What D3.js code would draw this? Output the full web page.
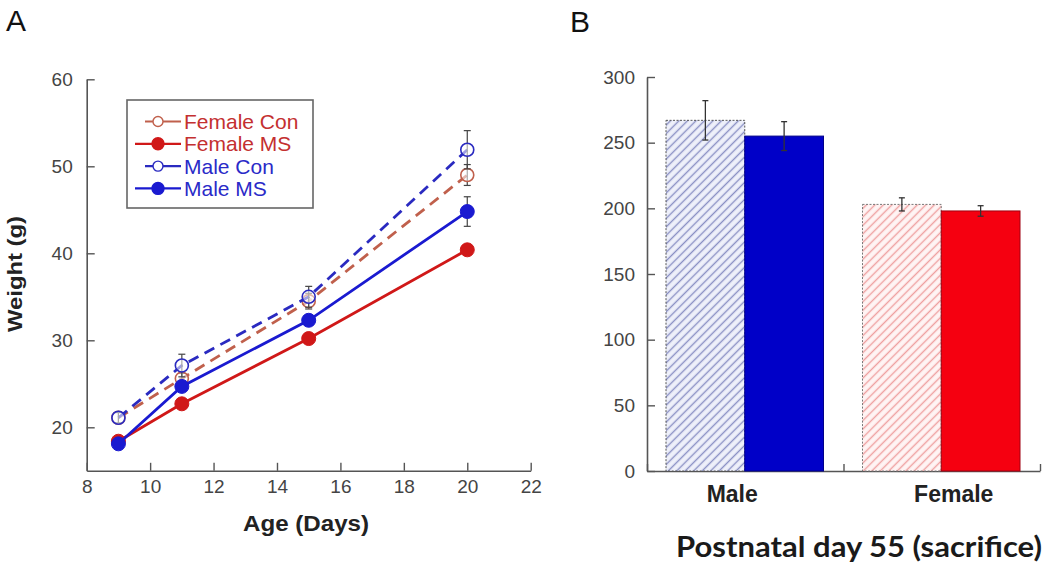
<!DOCTYPE html>
<html><head><meta charset="utf-8">
<script src="https://cdn.jsdelivr.net/npm/d3@7/dist/d3.min.js"></script>
<style>body{margin:0;background:#fff}svg{display:block}</style>
</head><body>
<svg id="chart" width="1050" height="570"></svg>
<script>
// ---------- Panel A data ----------
const days = [9, 11, 15, 20];
const xTicksA = [8, 10, 12, 14, 16, 18, 20, 22];
const yTicksA = [20, 30, 40, 50, 60];
const seriesNames = ["Female Con", "Female MS", "Male Con", "Male MS"];
const femaleCon = [21.1, 25.6, 34.5, 49.0];
const femaleConErr = [0.6, 0.6, 0.9, 1.2];
const femaleMS = [18.4, 22.7, 30.2, 40.4];
const femaleMSErr = [0.4, 0.4, 0.5, 0.6];
const maleCon = [21.1, 27.1, 35.0, 51.9];
const maleConErr = [0.6, 1.3, 1.2, 2.2];
const maleMS = [18.1, 24.7, 32.3, 44.8];
const maleMSErr = [0.5, 0.6, 0.6, 1.7];

// ---------- Panel B data ----------
const groupsB = ["Male", "Female"];
const conditionsB = ["Con", "MS"];
const conValues = [267, 203];
const conErr = [15, 5];
const msValues = [255, 198];
const msErr = [11, 4];
const yTicksB = [0, 50, 100, 150, 200, 250, 300];

const svg = d3.select("#chart");
const FONT = "'Liberation Sans', Arial, sans-serif";
const axisColor = "#555";

// ---------- defs: hatch patterns ----------
const defs = svg.append("defs");
function hatch(id, bg, fg) {
  const p = defs.append("pattern").attr("id", id).attr("patternUnits", "userSpaceOnUse")
    .attr("width", 6).attr("height", 6).attr("patternTransform", "rotate(45)");
  p.append("rect").attr("width", 6).attr("height", 6).attr("fill", bg);
  p.append("line").attr("x1", 1.5).attr("y1", 0).attr("x2", 1.5).attr("y2", 6)
    .attr("stroke", fg).attr("stroke-width", 1.4);
}
hatch("hatchBlue", "#eef0fa", "#8a90c4");
hatch("hatchRed", "#fff4f4", "#efa0a0");

// panel letters
svg.append("text").attr("x", 6).attr("y", 31).attr("font-family", FONT).attr("font-size", 30).attr("fill", "#111").text("A");
svg.append("text").attr("x", 570).attr("y", 32).attr("font-family", FONT).attr("font-size", 30).attr("fill", "#111").text("B");

// ---------- Panel A ----------
const xA = d3.scaleLinear().domain([8, 22]).range([86.7, 530.7]);
const yA = d3.scaleLinear().domain([15, 60]).range([470.8, 79.3]);

function styleAxis(g) {
  g.select(".domain").attr("stroke", axisColor).attr("stroke-width", 1.6);
  g.selectAll(".tick line").attr("stroke", axisColor).attr("stroke-width", 1.4);
  g.selectAll(".tick text").attr("fill", "#444").attr("font-family", FONT).attr("font-size", 19);
}
const gxA = svg.append("g").attr("transform", `translate(0,${yA(15)})`)
  .call(d3.axisBottom(xA).tickValues(xTicksA).tickSizeInner(-8).tickSizeOuter(0).tickPadding(9));
styleAxis(gxA);
const gyA = svg.append("g").attr("transform", `translate(${xA(8)},0)`)
  .call(d3.axisLeft(yA).tickValues(yTicksA).tickSizeInner(-8).tickSizeOuter(0).tickPadding(14));
styleAxis(gyA);

svg.append("text").attr("x", 306).attr("y", 531).attr("text-anchor", "middle")
  .attr("font-family", FONT).attr("font-weight", "bold").attr("font-size", 22).attr("fill", "#222")
  .attr("textLength", 126).attr("lengthAdjust", "spacingAndGlyphs").text("Age (Days)");
svg.append("text").attr("transform", "translate(22,274) rotate(-90)").attr("text-anchor", "middle")
  .attr("font-family", FONT).attr("font-weight", "bold").attr("font-size", 21).attr("fill", "#222")
  .attr("textLength", 116).attr("lengthAdjust", "spacingAndGlyphs").text("Weight (g)");

const seriesA = [
  {name: seriesNames[0], vals: femaleCon, err: femaleConErr, color: "#c0604c", dash: "11,7", open: true, text: "#c43030"},
  {name: seriesNames[1], vals: femaleMS, err: femaleMSErr, color: "#d01818", dash: null, open: false, text: "#c43030"},
  {name: seriesNames[2], vals: maleCon, err: maleConErr, color: "#2a2ac0", dash: "11,7", open: true, text: "#2a2ac8"},
  {name: seriesNames[3], vals: maleMS, err: maleMSErr, color: "#1a1ad0", dash: null, open: false, text: "#2a2ac8"}
];
const line = d3.line().x(d => xA(d.x)).y(d => yA(d.y));
seriesA.forEach(s => {
  const pts = days.map((d, i) => ({x: d, y: s.vals[i], e: s.err[i]}));
  const g = svg.append("g");
  g.append("path").datum(pts).attr("d", line).attr("fill", "none").attr("stroke", s.color)
    .attr("stroke-width", 2.8).attr("stroke-dasharray", s.dash);
  pts.forEach(p => {
    const x = xA(p.x), y1 = yA(p.y + p.e), y2 = yA(p.y - p.e);
    g.append("line").attr("x1", x).attr("x2", x).attr("y1", y1).attr("y2", y2).attr("stroke", "#444").attr("stroke-width", 1.2);
    g.append("line").attr("x1", x - 3.5).attr("x2", x + 3.5).attr("y1", y1).attr("y2", y1).attr("stroke", "#444").attr("stroke-width", 1.2);
    g.append("line").attr("x1", x - 3.5).attr("x2", x + 3.5).attr("y1", y2).attr("y2", y2).attr("stroke", "#444").attr("stroke-width", 1.2);
  });
  g.selectAll("circle").data(pts).join("circle")
    .attr("cx", d => xA(d.x)).attr("cy", d => yA(d.y)).attr("r", s.open ? 6.5 : 7)
    .attr("fill", s.open ? "#fff" : s.color).attr("fill-opacity", s.open ? 0.55 : 1)
    .attr("stroke", s.color).attr("stroke-width", s.open ? 1.6 : 1);
});

// legend
const lg = svg.append("g");
lg.append("rect").attr("x", 127).attr("y", 100).attr("width", 186).attr("height", 108)
  .attr("fill", "#fff").attr("stroke", "#666").attr("stroke-width", 1.6);
seriesA.forEach((s, i) => {
  const y = 121.5 + i * 22.3;
  const x0 = s.open ? 145 : 135;
  lg.append("line").attr("x1", x0).attr("x2", 181).attr("y1", y).attr("y2", y).attr("stroke", s.color).attr("stroke-width", 2.2);
  lg.append("circle").attr("cx", 158).attr("cy", y).attr("r", s.open ? 5 : 6)
    .attr("fill", s.open ? "#fff" : s.color).attr("stroke", s.color).attr("stroke-width", 1.4);
  lg.append("text").attr("x", 184).attr("y", y + 7.5).attr("font-family", FONT).attr("font-size", 21)
    .attr("fill", s.text).text(s.name);
});

// ---------- Panel B ----------
const x0B = d3.scaleBand().domain(groupsB).range([647, 1040]).padding(0);
const x1B = d3.scaleBand().domain(conditionsB).range([19, x0B.bandwidth() - 20]).padding(0);
const yB = d3.scaleLinear().domain([0, 300]).range([471, 77]);
const tickPosB = d3.scaleLinear().domain([0, groupsB.length]).range([647, 1040]);

const gxB = svg.append("g").attr("transform", `translate(0,${yB(0)})`)
  .call(d3.axisBottom(tickPosB).tickValues(d3.range(groupsB.length + 1)).tickFormat("").tickSizeInner(-7).tickSizeOuter(0));
styleAxis(gxB);
const gyB = svg.append("g").attr("transform", `translate(647,0)`)
  .call(d3.axisLeft(yB).tickValues(yTicksB).tickSizeInner(-8).tickSizeOuter(0).tickPadding(12));
styleAxis(gyB);

const barColors = {
  Male: {Con: "url(#hatchBlue)", MS: "#0000c8", stroke: {Con: "#555", MS: "#00008a"}},
  Female: {Con: "url(#hatchRed)", MS: "#f50010", stroke: {Con: "#777", MS: "#a00010"}}
};
const barData = [];
groupsB.forEach((g, i) => {
  barData.push({group: g, cond: "Con", v: conValues[i], e: conErr[i]});
  barData.push({group: g, cond: "MS", v: msValues[i], e: msErr[i]});
});
const bars = svg.append("g");
bars.selectAll("rect").data(barData).join("rect")
  .attr("x", d => x0B(d.group) + x1B(d.cond))
  .attr("y", d => yB(d.v))
  .attr("width", x1B.bandwidth())
  .attr("height", d => yB(0) - yB(d.v))
  .attr("fill", d => barColors[d.group][d.cond])
  .attr("stroke", d => barColors[d.group].stroke[d.cond])
  .attr("stroke-width", 1)
  .attr("stroke-dasharray", d => d.cond === "Con" ? "2,1.5" : null);
barData.forEach(d => {
  const x = x0B(d.group) + x1B(d.cond) + x1B.bandwidth() / 2;
  const y1 = yB(d.v + d.e), y2 = yB(d.v - d.e);
  const c = "#333";
  bars.append("line").attr("x1", x).attr("x2", x).attr("y1", y1).attr("y2", y2).attr("stroke", c).attr("stroke-width", 1.3);
  bars.append("line").attr("x1", x - 3).attr("x2", x + 3).attr("y1", y1).attr("y2", y1).attr("stroke", c).attr("stroke-width", 1.3);
  bars.append("line").attr("x1", x - 3).attr("x2", x + 3).attr("y1", y2).attr("y2", y2).attr("stroke", c).attr("stroke-width", 1.3);
});
svg.selectAll(".grpLabel").data(groupsB).join("text")
  .attr("x", (d, i) => x0B(d) + x0B.bandwidth() / 2 + (i === 0 ? -13 : 12))
  .attr("y", 502).attr("text-anchor", "middle")
  .attr("font-family", FONT).attr("font-weight", "bold").attr("font-size", 23).attr("fill", "#222").text(d => d);
svg.append("text").attr("x", 859).attr("y", 557).attr("text-anchor", "middle")
  .attr("font-family", "Lato, 'Open Sans', sans-serif").attr("font-weight", "bold").attr("font-size", 29)
  .attr("textLength", 366).attr("lengthAdjust", "spacingAndGlyphs")
  .attr("fill", "#1a1a1a").text("Postnatal day 55 (sacrifice)");
</script>
</body></html>
